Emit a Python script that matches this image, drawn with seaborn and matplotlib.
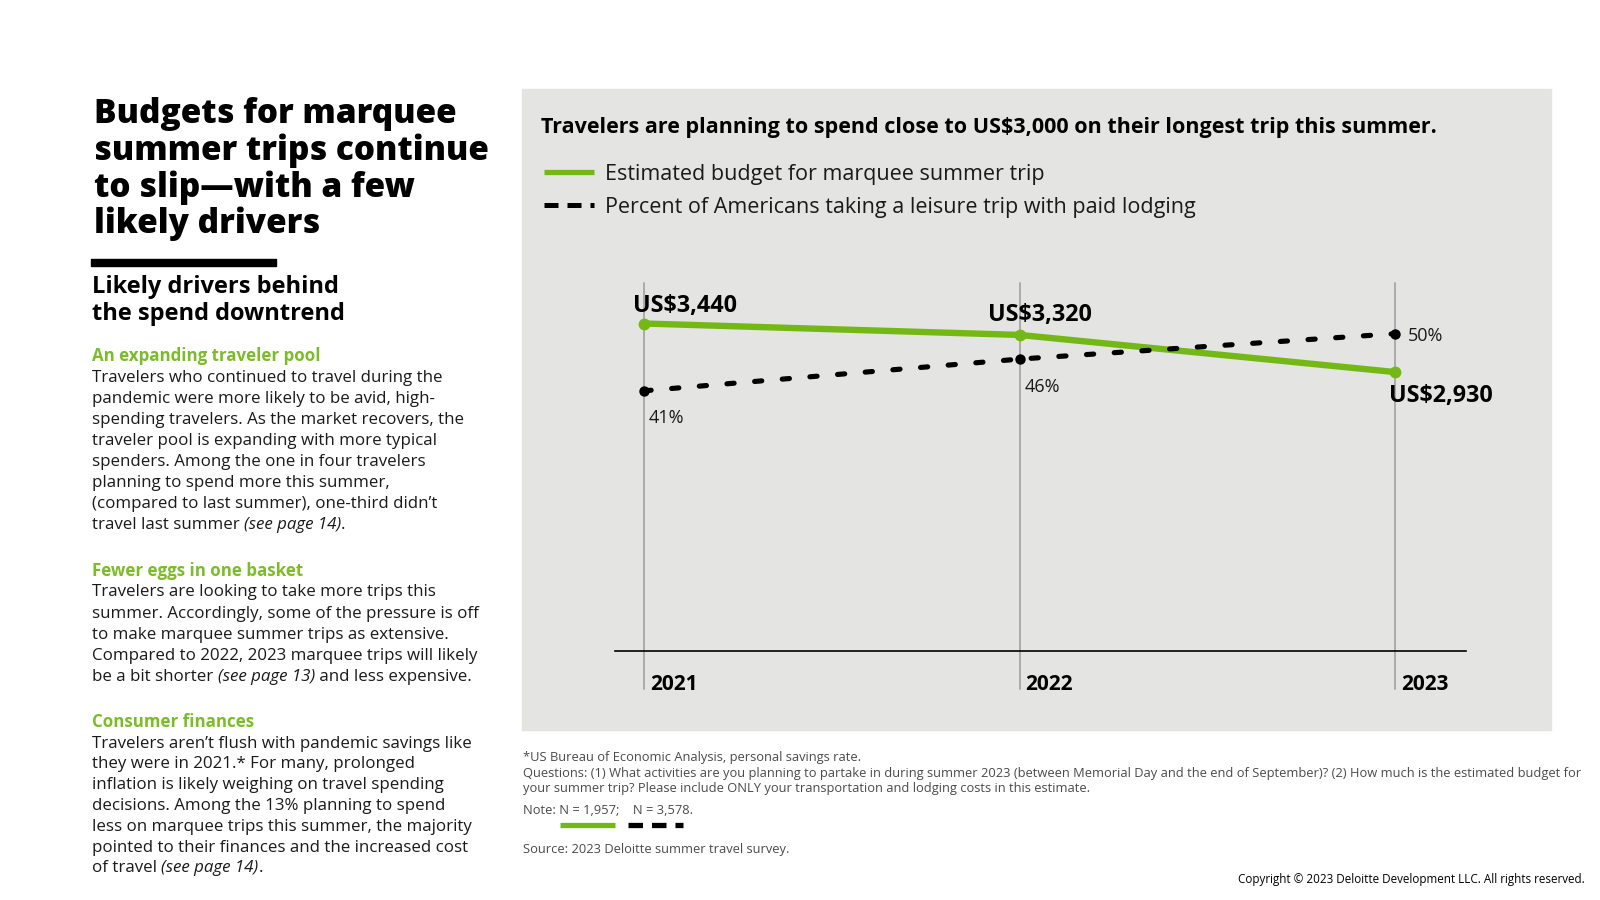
import numpy as np
import pandas as pd
import matplotlib
matplotlib.use("Agg")
import matplotlib.pyplot as plt
import seaborn as sns
from matplotlib.patches import Rectangle
from matplotlib.lines import Line2D

# data
years = ["2021", "2022", "2023"]
budget = [3440, 3320, 2930]
budget_labels = ["US$3,440", "US$3,320", "US$2,930"]
pct_trip = [41, 46, 50]
pct_labels = ["41%", "46%", "50%"]

W, H = 1600, 900
GREEN_LINE = "#74B816"
GREEN_TXT = "#7CBB2A"
PANEL = "#E4E4E2"
TXT = "#1A1A1A"

sns.set_theme(style="white")
plt.rcParams["font.family"] = ["Open Sans", "DejaVu Sans"]

fig = plt.figure(figsize=(16, 9), dpi=100, facecolor="white")


def fx(x):
    return x / W


def fy(y):
    return 1 - y / H


def put(x, y, s, **kw):
    kw.setdefault("va", "center")
    kw.setdefault("color", TXT)
    return fig.text(fx(x), fy(y), s, **kw)


renderer = fig.canvas.get_renderer()


def rich(x, y, parts, size, color=TXT):
    # line made of regular / italic pieces
    cur = x
    for txt, style in parts:
        t = put(cur, y, txt, fontsize=size, style=style, color=color)
        cur += t.get_window_extent(renderer=renderer).width


# ---- left column ----
title = ["Budgets for marquee", "summer trips continue", "to slip\u2014with a few", "likely drivers"]
for i, line in enumerate(title):
    put(94, 114 + i * 36.7, line, fontsize=24, fontweight="heavy", color="black")

fig.patches.append(Rectangle((fx(91), fy(266)), (276 - 91) / W, 7 / H,
                             transform=fig.transFigure, color="black"))
put(92, 287, "Likely drivers behind", fontsize=17, fontweight="bold", color="black")
put(92, 314, "the spend downtrend", fontsize=17, fontweight="bold", color="black")

BODY = 12.2
sections = [
    (356, 21.1, "An expanding traveler pool", [
        [("Travelers who continued to travel during the", "normal")],
        [("pandemic were more likely to be avid, high-", "normal")],
        [("spending travelers. As the market recovers, the", "normal")],
        [("traveler pool is expanding with more typical", "normal")],
        [("spenders. Among the one in four travelers", "normal")],
        [("planning to spend more this summer,", "normal")],
        [("(compared to last summer), one-third didn\u2019t", "normal")],
        [("travel last summer ", "normal"), ("(see page 14)", "italic"), (".", "normal")],
    ]),
    (571, 21.1, "Fewer eggs in one basket", [
        [("Travelers are looking to take more trips this", "normal")],
        [("summer. Accordingly, some of the pressure is off", "normal")],
        [("to make marquee summer trips as extensive.", "normal")],
        [("Compared to 2022, 2023 marquee trips will likely", "normal")],
        [("be a bit shorter ", "normal"), ("(see page 13)", "italic"), (" and less expensive.", "normal")],
    ]),
    (722, 20.8, "Consumer finances", [
        [("Travelers aren\u2019t flush with pandemic savings like", "normal")],
        [("they were in 2021.* For many, prolonged", "normal")],
        [("inflation is likely weighing on travel spending", "normal")],
        [("decisions. Among the 13% planning to spend", "normal")],
        [("less on marquee trips this summer, the majority", "normal")],
        [("pointed to their finances and the increased cost", "normal")],
        [("of travel ", "normal"), ("(see page 14)", "italic"), (".", "normal")],
    ]),
]
for y0, step, head, lines in sections:
    put(92, y0, head, fontsize=12.2, fontweight="bold", color=GREEN_TXT)
    for j, parts in enumerate(lines):
        rich(92, y0 + 21.5 + j * step, parts, BODY)

# ---- chart panel ----
fig.patches.append(Rectangle((fx(522), fy(730)), (1551 - 522) / W, (730 - 89) / H,
                             transform=fig.transFigure, color=PANEL, zorder=-5))
put(541, 128, "Travelers are planning to spend close to US$3,000 on their longest trip this summer.",
    fontsize=15.5, fontweight="bold", color="black")

fig.lines.append(Line2D([fx(544), fx(594)], [fy(171.5)] * 2, transform=fig.transFigure,
                        color=GREEN_LINE, linewidth=3.8, solid_capstyle="butt"))
fig.lines.append(Line2D([fx(544), fx(594)], [fy(205)] * 2, transform=fig.transFigure,
                        color="black", linewidth=3.6, dashes=(2.8, 1.8), dash_capstyle="butt"))
put(605, 174.5, "Estimated budget for marquee summer trip", fontsize=15.5)
put(605, 207.5, "Percent of Americans taking a leisure trip with paid lodging", fontsize=15.5)

ax_l, ax_r, ax_t, ax_b = 615, 1466, 283, 651
ax = fig.add_axes([fx(ax_l), fy(ax_b), (ax_r - ax_l) / W, (ax_b - ax_t) / H])
ax.set_facecolor("none")
ax2 = ax.twinx()

xs = np.arange(len(years))
df = pd.DataFrame({"x": xs, "budget": budget, "pct": pct_trip})

sns.lineplot(data=df, x="x", y="budget", ax=ax, color=GREEN_LINE, linewidth=4.6,
             marker="o", markersize=8.5, markeredgewidth=0, zorder=3)
sns.lineplot(data=df, x="x", y="pct", ax=ax2, color="black", linewidth=3.7,
             marker="o", markersize=7.5, markeredgewidth=0, zorder=3)
dash_line = ax2.lines[-1]
dash_line.set_dashes((1.4, 4.0))
dash_line.set_dash_capstyle("round")

px_per_unit = 2 / (1395 - 644)
xlim = (-(644 - ax_l) * px_per_unit, 2 + (ax_r - 1395) * px_per_unit)
for a in (ax, ax2):
    a.set_xlim(*xlim)
    a.set_xlabel("")
    a.set_ylabel("")
    a.set_xticks([])
    a.set_yticks([])
    a.set_facecolor("none")
    for s in a.spines.values():
        s.set_visible(False)
ax.spines["bottom"].set_visible(True)
ax.spines["bottom"].set_color("black")
ax.spines["bottom"].set_linewidth(1.2)

ax.set_ylim(0, 3440 * (ax_b - ax_t) / (ax_b - 323.5))
ax2.set_ylim(0, 50 * (ax_b - ax_t) / (ax_b - 333.7))

for i, yr in enumerate(years):
    ax.axvline(i, ymin=-(689 - ax_b) / (ax_b - ax_t), ymax=1, color="#ABABAB",
               linewidth=1.4, clip_on=False, zorder=1)
    ax.annotate(yr, (i, 0), xytext=(6, -33), textcoords="offset pixels",
                ha="left", va="center", fontsize=15, fontweight="bold", color="black",
                annotation_clip=False)

b_off = [(-11, 18), (-32, 19.5), (-6, -23.5)]
for i, (lab, off) in enumerate(zip(budget_labels, b_off)):
    ax.annotate(lab, (xs[i], budget[i]), xytext=off, textcoords="offset pixels",
                ha="left", va="center", fontsize=16.8, fontweight="bold", color="black",
                annotation_clip=False)
p_off = [(5, -27), (5.5, -28), (13, -2)]
for i, (lab, off) in enumerate(zip(pct_labels, p_off)):
    ax2.annotate(lab, (xs[i], pct_trip[i]), xytext=off, textcoords="offset pixels",
                 ha="left", va="center", fontsize=13, color=TXT, annotation_clip=False)

# ---- footnotes ----
FOOT = 9.3
FC = "#4A4A4A"
put(523, 758, "*US Bureau of Economic Analysis, personal savings rate.", fontsize=FOOT, color=FC)
put(523, 773.4, "Questions: (1) What activities are you planning to partake in during summer 2023 "
    "(between Memorial Day and the end of September)? (2) How much is the estimated budget for",
    fontsize=FOOT, color=FC)
put(523, 788.7, "your summer trip? Please include ONLY your transportation and lodging costs in this estimate.",
    fontsize=FOOT, color=FC)
put(523, 811, "Note: N = 1,957;    N = 3,578.", fontsize=FOOT, color=FC)
fig.lines.append(Line2D([fx(560), fx(615)], [fy(824.5)] * 2, transform=fig.transFigure,
                        color=GREEN_LINE, linewidth=3.8, solid_capstyle="butt"))
fig.lines.append(Line2D([fx(628), fx(683)], [fy(824.5)] * 2, transform=fig.transFigure,
                        color="black", linewidth=3.8, dashes=(2.75, 1.7), dash_capstyle="butt"))
put(523, 850, "Source: 2023 Deloitte summer travel survey.", fontsize=FOOT, color=FC)
put(1585, 879, "Copyright \u00a9 2023 Deloitte Development LLC. All rights reserved.",
    fontsize=8.35, ha="right", color="black")

fig.savefig("out.png", dpi=100, facecolor="white")
